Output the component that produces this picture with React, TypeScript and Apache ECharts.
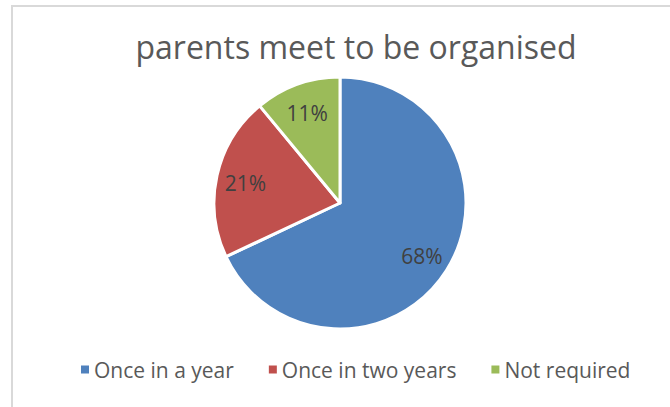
import React, { useEffect, useRef } from "react";
import * as echarts from "echarts";

const categories = ["Once in a year", "Once in two years", "Not required"];
const values = [68, 21, 11];
const colors = ["#4F81BD", "#C0504D", "#9BBB59"];
const titleText = "parents meet to be organised";

export default function App() {
  const ref = useRef<HTMLDivElement>(null);
  useEffect(() => {
    if (!ref.current) return;
    const chart = echarts.init(ref.current, null, { renderer: "svg" });
    const data = categories.map((name, i) => ({
      name,
      value: values[i],
      itemStyle: { color: colors[i] },
    }));
    const font = "'Open Sans', Calibri, sans-serif";
    chart.setOption({
      animation: false,
      backgroundColor: "#ffffff",
      title: {
        text: titleText,
        left: 351,
        textAlign: "center",
        top: 25,
        textStyle: { fontFamily: font, fontSize: 32, fontWeight: "normal", color: "#595959" },
      },
      legend: {
        data: categories,
        orient: "horizontal",
        top: 354,
        left: 76,
        width: 600,
        icon: "rect",
        itemWidth: 8,
        itemHeight: 8,
        itemGap: 35,
        itemStyle: { borderWidth: 0 },
        textStyle: { fontFamily: font, fontSize: 21, color: "#595959" },
      },
      graphic: [
        { type: "rect", shape: { x: 11, y: 5, width: 2, height: 402 }, style: { fill: "#d9d9d9" }, silent: true },
        { type: "rect", shape: { x: 11, y: 5, width: 659, height: 2 }, style: { fill: "#d9d9d9" }, silent: true },
      ],
      series: [
        {
          type: "pie",
          center: [340, 203],
          radius: [0, 126],
          startAngle: 90,
          clockwise: true,
          data,
          label: { show: false },
          labelLine: { show: false },
          itemStyle: { borderColor: "#ffffff", borderWidth: 3 },
          emphasis: { disabled: true },
        },
        {
          type: "pie",
          center: [340, 204],
          radius: [0, 188],
          startAngle: 90,
          clockwise: true,
          silent: true,
          data: categories.map((name, i) => ({ name, value: values[i] })),
          itemStyle: { color: "rgba(0,0,0,0)", borderWidth: 0 },
          label: {
            show: true,
            position: "inside",
            formatter: "{c}%",
            fontFamily: font,
            fontSize: 21,
            color: "#404040",
          },
          labelLine: { show: false },
          emphasis: { disabled: true },
        },
      ],
    });
    return () => chart.dispose();
  }, []);
  return (
    <div
      ref={ref}
      style={{ position: "fixed", left: 0, top: 0, width: 670, height: 407 }}
    />
  );
}
